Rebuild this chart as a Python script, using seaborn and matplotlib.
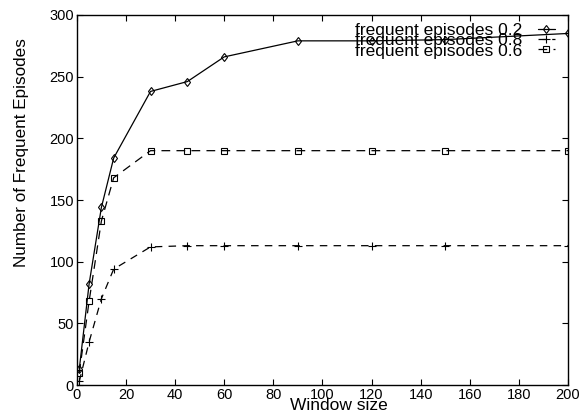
import matplotlib
matplotlib.use("Agg")
import matplotlib.pyplot as plt
import seaborn as sns
import pandas as pd

window = [1, 5, 10, 15, 30, 45, 60, 90, 120, 150, 200]
ep02 = [13, 82, 144, 184, 238, 246, 266, 279, 279, 280, 285]
ep08 = [3, 35, 70, 94, 112, 113, 113, 113, 113, 113, 113]
ep06 = [10, 68, 133, 168, 190, 190, 190, 190, 190, 190, 190]
labels = ["frequent episodes 0.2", "frequent episodes 0.8", "frequent episodes 0.6"]

sns.set_theme(style="ticks")
plt.rcParams['font.family'] = ['Liberation Sans', 'DejaVu Sans']
plt.rcParams['text.color'] = 'black'
plt.rcParams['axes.labelcolor'] = 'black'

fig = plt.figure(figsize=(5.82, 4.15), dpi=100)
ax = fig.add_axes([0.132, 0.072, 0.844, 0.892])

series = [ep02, ep08, ep06]
markers = ['d', '+', 's']
dashes = [None, (6, 5), (7, 5)]
sizes = [4.5, 6, 4.5]
for vals, lab, mk, ds, ms in zip(series, labels, markers, dashes, sizes):
    df = pd.DataFrame({"w": window, "v": vals})
    sns.lineplot(data=df, x="w", y="v", ax=ax, color="black", lw=0.9,
                 marker=mk, markersize=ms, markerfacecolor='none',
                 markeredgecolor='black', markeredgewidth=0.8, label=lab)
    if ds is not None:
        ax.lines[-1].set_dashes(ds)

ax.set_xlim(0, 200)
ax.set_ylim(0, 300)
ax.set_xticks(range(0, 201, 20))
ax.set_yticks(range(0, 301, 50))
ax.tick_params(direction='in', top=True, right=True, length=4, width=0.8,
               labelsize=10.5, colors='black', pad=2)
for s in ax.spines.values():
    s.set_visible(True)
    s.set_color('black')
    s.set_linewidth(1.0)
ax.set_xlabel("Window size", fontsize=12.5, labelpad=-3, color='black', x=0.534)
ax.set_ylabel("Number of Frequent Episodes", fontsize=12.3, labelpad=15, color='black', y=0.627)

leg = ax.legend(loc='upper right', bbox_to_anchor=(0.995, 1.007), frameon=False,
                markerfirst=False, fontsize=12.5, labelspacing=-0.28,
                handlelength=1.0, handletextpad=0.9, borderpad=0.1)
for t in leg.get_texts():
    t.set_color('black')
fig.savefig("out.png", dpi=100)
